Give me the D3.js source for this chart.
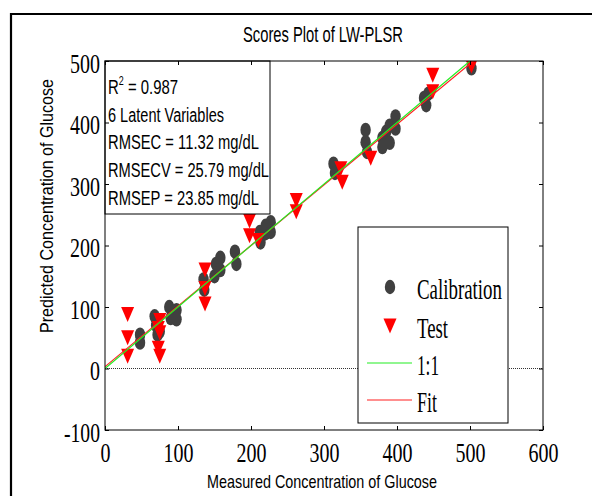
<!DOCTYPE html>
<html lang="en">
<head>
<meta charset="UTF-8">
<title>Scores Plot of LW-PLSR</title>
<script src="https://cdn.jsdelivr.net/npm/d3@7/dist/d3.min.js"></script>
<style>
body { margin: 0; background: #fff; }
svg { display: block; }
.sans { font-family: 'Liberation Sans', Arial, sans-serif; }
.serif { font-family: 'Liberation Serif', 'Times New Roman', serif; }
</style>
</head>
<body>
<script>
// measured vs predicted glucose (mg/dL)
const calMeasured = [48, 48, 68, 70, 72, 75, 88, 90, 98, 98, 135, 136, 150, 152, 158, 158, 178, 180,
                     212, 213, 220, 220, 227, 227, 313, 315, 357, 357, 359, 380, 380, 385, 390, 390,
                     398, 398, 437, 440, 443, 502];
const calPredicted = [55, 42, 85, 70, 55, 60, 100, 82, 95, 80, 145, 128, 150, 170, 180, 160, 190, 170,
                      222, 205, 232, 220, 238, 222, 333, 318, 388, 368, 352, 375, 360, 385, 395, 367,
                      410, 390, 440, 428, 447, 488];
const testMeasured = [31, 31, 31, 73, 75, 75, 73, 75, 137, 137, 137, 198, 198, 210, 262, 262, 323, 325,
                      364, 449, 449, 502];
const testPredicted = [88, 50, 20, 65, 78, 58, 33, 20, 160, 130, 105, 240, 216, 208, 273, 255, 325, 303,
                       342, 477, 450, 492];
const xTicks = [0, 100, 200, 300, 400, 500, 600];
const yTicks = [-100, 0, 100, 200, 300, 400, 500];
const fitSlope = 0.985, fitIntercept = 3;
const statLines = ["R2 = 0.987", "6 Latent Variables", "RMSEC = 11.32 mg/dL", "RMSECV = 25.79 mg/dL", "RMSEP = 23.85 mg/dL"];
const statWidths = [70, 116, 151, 161, 151];
const legendLabels = ["Calibration", "Test", "1:1", "Fit"];
const legendWidths = [85, 31, 22, 20];

const W = 592, H = 496;
const m = {left: 105, top: 61, right: 543, bottom: 430};

const svg = d3.select('body').append('svg')
    .attr('width', W).attr('height', H);

// outer frame (only left & top visible in the crop)
svg.append('path')
    .attr('d', `M11,${H + 2}V14H${W + 2}`)
    .attr('fill', 'none').attr('stroke', '#000').attr('stroke-width', 2.2);

const x = d3.scaleLinear().domain([0, 600]).range([m.left, m.right]);
const y = d3.scaleLinear().domain([-100, 500]).range([m.bottom, m.top]);

svg.append('clipPath').attr('id', 'plotclip')
  .append('rect').attr('x', m.left).attr('y', m.top)
    .attr('width', m.right - m.left).attr('height', m.bottom - m.top);

const plot = svg.append('g').attr('clip-path', 'url(#plotclip)');

// zero line
plot.append('line')
    .attr('x1', x(0)).attr('x2', x(600)).attr('y1', y(0)).attr('y2', y(0))
    .attr('stroke', '#333').attr('stroke-width', 1).attr('stroke-dasharray', '1,1');

// calibration points
plot.append('g').selectAll('ellipse')
    .data(d3.zip(calMeasured, calPredicted))
    .join('ellipse')
    .attr('cx', d => x(d[0])).attr('cy', d => y(d[1]))
    .attr('rx', 5.2).attr('ry', 7.2)
    .attr('fill', '#404040');

// test points
plot.append('g').selectAll('path')
    .data(d3.zip(testMeasured, testPredicted))
    .join('path')
    .attr('transform', d => `translate(${x(d[0])},${y(d[1])})`)
    .attr('d', 'M-6.5,-7.5L6.5,-7.5L0,7.5Z')
    .attr('fill', '#ff0000');

// fit and 1:1 lines
plot.append('line')
    .attr('x1', x(0)).attr('y1', y(fitIntercept))
    .attr('x2', x(510)).attr('y2', y(fitIntercept + fitSlope * 510))
    .attr('stroke', '#ff2020').attr('stroke-width', 1.2);
plot.append('line')
    .attr('x1', x(0)).attr('y1', y(0))
    .attr('x2', x(500)).attr('y2', y(500))
    .attr('stroke', '#22ee22').attr('stroke-width', 1.2);

// stats box
const sb = svg.append('g');
sb.append('rect')
    .attr('x', m.left).attr('y', m.top).attr('width', 165).attr('height', 153)
    .attr('fill', '#fff').attr('stroke', '#000').attr('stroke-width', 1);
statLines.forEach((s, i) => {
    const t = sb.append('text').attr('class', 'sans')
        .attr('x', 108).attr('y', 94 + i * 27.7)
        .attr('font-size', 20)
        .attr('textLength', statWidths[i]).attr('lengthAdjust', 'spacingAndGlyphs');
    if (i === 0) {
        t.append('tspan').text('R');
        t.append('tspan').attr('font-size', 12).attr('dy', -9).text('2');
        t.append('tspan').attr('dy', 9).text(' = 0.987');
    } else {
        t.text(s);
    }
});

// legend
const lg = svg.append('g');
lg.append('rect')
    .attr('x', 358).attr('y', 227).attr('width', 150).attr('height', 196)
    .attr('fill', '#fff').attr('stroke', '#000').attr('stroke-width', 1);
const legY = [287, 326, 363, 400];
lg.append('ellipse').attr('cx', 390).attr('cy', legY[0]).attr('rx', 5.2).attr('ry', 7.2).attr('fill', '#404040');
lg.append('path').attr('transform', `translate(390,${legY[1]})`)
    .attr('d', 'M-6.5,-7.5L6.5,-7.5L0,7.5Z').attr('fill', '#ff0000');
lg.append('line').attr('x1', 367).attr('x2', 412).attr('y1', legY[2]).attr('y2', legY[2])
    .attr('stroke', '#22ee22').attr('stroke-width', 1.2);
lg.append('line').attr('x1', 367).attr('x2', 412).attr('y1', legY[3]).attr('y2', legY[3])
    .attr('stroke', '#ff2020').attr('stroke-width', 1.2);
legendLabels.forEach((s, i) => {
    lg.append('text').attr('class', 'serif')
        .attr('x', 417).attr('y', legY[i] + 12)
        .attr('font-size', 29)
        .attr('textLength', legendWidths[i]).attr('lengthAdjust', 'spacingAndGlyphs')
        .text(s);
});

// axes (inside ticks on all four sides)
const tickLen = 4;
const plain = d => String(d);   // hyphen minus like the original, not U+2212
const gx = svg.append('g').attr('transform', `translate(0,${m.bottom})`)
    .call(d3.axisBottom(x).tickValues(xTicks).tickFormat(plain).tickSizeInner(-tickLen).tickSizeOuter(0));
const gy = svg.append('g').attr('transform', `translate(${m.left},0)`)
    .call(d3.axisLeft(y).tickValues(yTicks).tickFormat(plain).tickSizeInner(-tickLen).tickSizeOuter(0).tickPadding(5));
svg.append('g').attr('transform', `translate(0,${m.top})`)
    .call(d3.axisTop(x).tickValues(xTicks).tickSizeInner(-tickLen).tickSizeOuter(0).tickFormat(''));
svg.append('g').attr('transform', `translate(${m.right},0)`)
    .call(d3.axisRight(y).tickValues(yTicks).tickSizeInner(-tickLen).tickSizeOuter(0).tickFormat(''));

svg.selectAll('.domain').remove();
svg.selectAll('.tick line').attr('stroke', '#000');

const labelWidth = s => s.replace('-', '').length * 10 + (s.includes('-') ? 6 : 0);
gx.selectAll('.tick text')
    .attr('class', 'serif').attr('font-size', 28).attr('fill', '#000')
    .attr('y', 32).attr('dy', 0)
    .attr('textLength', function() { return labelWidth(this.textContent); })
    .attr('lengthAdjust', 'spacingAndGlyphs');
gy.selectAll('.tick text')
    .attr('class', 'serif').attr('font-size', 28).attr('fill', '#000')
    .attr('dy', '0.4em')
    .attr('textLength', function() { return labelWidth(this.textContent); })
    .attr('lengthAdjust', 'spacingAndGlyphs');
svg.selectAll('.tick text').attr('font-family', null);

// plot box
svg.append('rect')
    .attr('x', m.left).attr('y', m.top)
    .attr('width', m.right - m.left).attr('height', m.bottom - m.top)
    .attr('fill', 'none').attr('stroke', '#000').attr('stroke-width', 1);

// titles
svg.append('text').attr('class', 'sans')
    .attr('x', 323).attr('y', 42).attr('text-anchor', 'middle')
    .attr('font-size', 21.5)
    .attr('textLength', 160).attr('lengthAdjust', 'spacingAndGlyphs')
    .text('Scores Plot of LW-PLSR');
svg.append('text').attr('class', 'sans')
    .attr('x', 322).attr('y', 488).attr('text-anchor', 'middle')
    .attr('font-size', 18.5)
    .attr('textLength', 230).attr('lengthAdjust', 'spacingAndGlyphs')
    .text('Measured Concentration of Glucose');
svg.append('text').attr('class', 'sans')
    .attr('transform', 'translate(53,206) rotate(-90)')
    .attr('text-anchor', 'middle')
    .attr('font-size', 19)
    .attr('textLength', 254).attr('lengthAdjust', 'spacingAndGlyphs')
    .text('Predicted Concentration of Glucose');
</script>
</body>
</html>
